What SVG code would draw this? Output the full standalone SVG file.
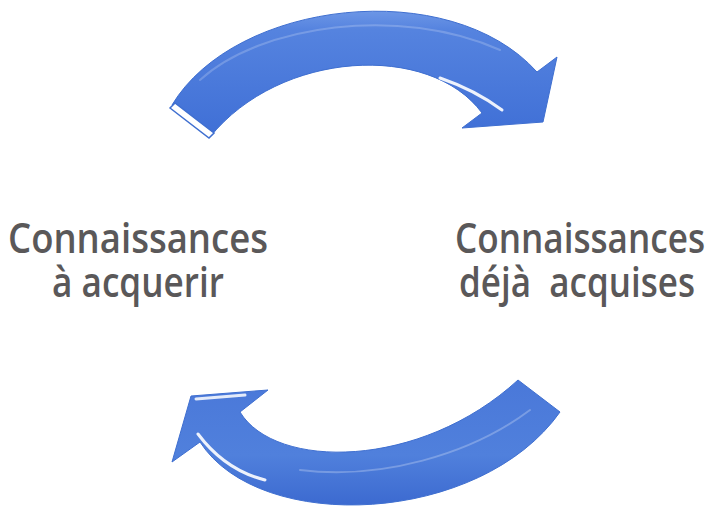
<svg xmlns="http://www.w3.org/2000/svg" width="713" height="507" viewBox="0 0 713 507">
<style>
.lbl{font-family:"Open Sans","Liberation Sans",sans-serif;font-size:41px;font-weight:600;fill:#5a5859;text-anchor:middle}
.arrow{stroke:#3f6fd0;stroke-width:1}
.gloss{fill:none;stroke:#ffffff;stroke-linecap:round}
</style>
<defs>
<linearGradient id="gTop" x1="0" y1="0" x2="0" y2="1">
<stop offset="0" stop-color="#6c96e6"/>
<stop offset="0.15" stop-color="#5583df"/>
<stop offset="1" stop-color="#3f6fd6"/>
</linearGradient>
<linearGradient id="gBot" x1="0" y1="0" x2="0" y2="1">
<stop offset="0" stop-color="#4a78d9"/>
<stop offset="0.6" stop-color="#5080dc"/>
<stop offset="1" stop-color="#3c6ad0"/>
</linearGradient>
</defs>
<rect width="713" height="507" fill="#ffffff"/>
<g id="connectors">
<g id="arrow-top">
<path class="arrow" fill="url(#gTop)" d="M 172,105 C 235,0 450,-25 537,72 L 557,57 L 543,122 L 462,128 L 482,113 C 430,42 280,50 210,137 Z"/>
<polygon points="170,108 175,103 214,133 209,138" fill="#ffffff" stroke="#3f6fd0" stroke-width="1.5"/>
<path class="gloss" stroke-width="3" opacity="0.9" d="M 440,78 Q 475,90 502,110"/>
<path class="gloss" stroke-width="2" opacity="0.2" d="M 200,80 C 260,25 400,5 500,50"/>
</g>
<g id="arrow-bottom">
<path class="arrow" fill="url(#gBot)" d="M 518,380 L 560,412 C 480,525 260,535 200,442 L 172,462 L 191,396 L 268,390 L 240,412 C 275,470 420,470 518,380 Z"/>
<path class="gloss" stroke-width="3" opacity="0.9" d="M 198,434 Q 225,470 265,480"/>
<path class="gloss" stroke-width="3" opacity="0.85" d="M 196,399 L 245,395"/>
<path class="gloss" stroke-width="2" opacity="0.25" d="M 300,470 C 380,480 470,455 530,410"/>
</g>
</g>
<g id="node-left">
<text class="lbl" x="138" y="253" textLength="260" lengthAdjust="spacingAndGlyphs">Connaissances</text>
<text class="lbl" x="138" y="297" textLength="172" lengthAdjust="spacingAndGlyphs">à acquerir</text>
</g>
<g id="node-right">
<text class="lbl" x="580" y="253" textLength="250" lengthAdjust="spacingAndGlyphs">Connaissances</text>
<text class="lbl" x="577" y="297" textLength="236" lengthAdjust="spacingAndGlyphs" xml:space="preserve">déjà  acquises</text>
</g>
</svg>
